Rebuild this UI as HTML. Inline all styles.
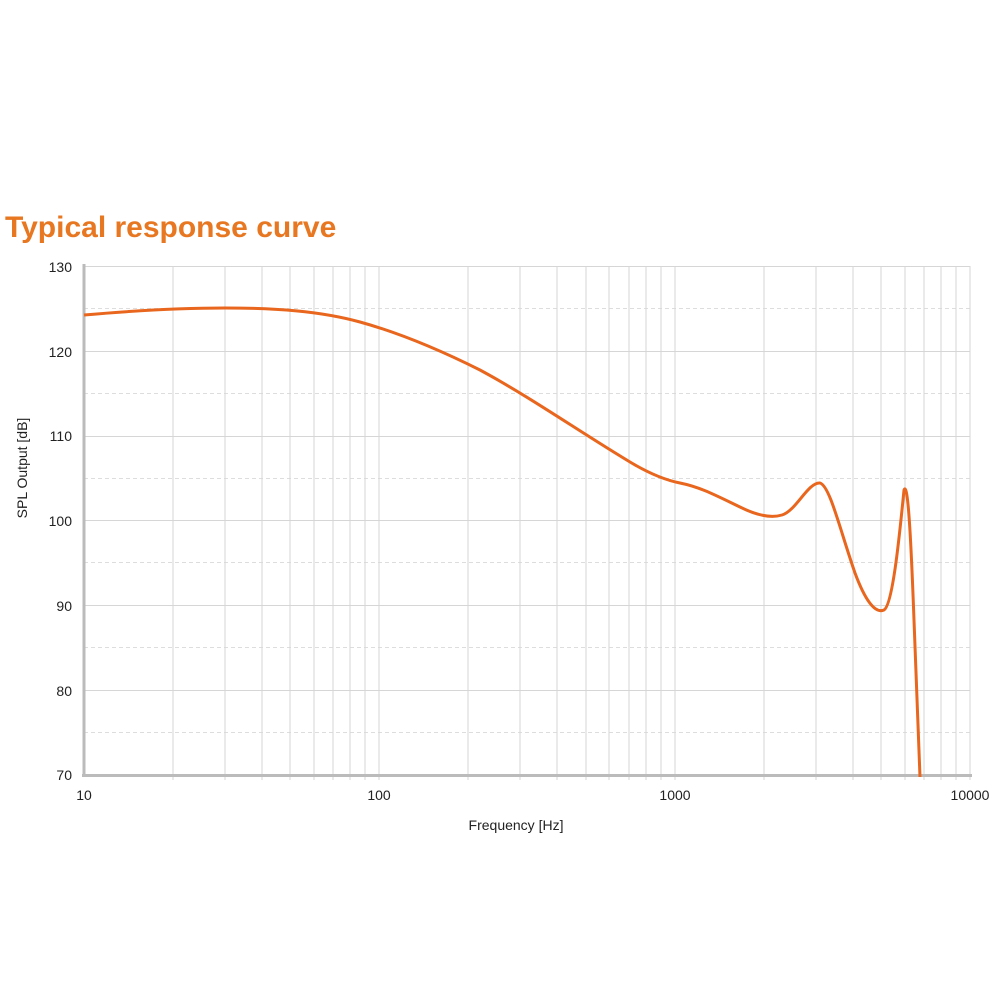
<!DOCTYPE html>
<html><head><style>
body{margin:0;background:#fff;}
svg{display:block;font-family:"Liberation Sans",Arial,sans-serif;}
</style></head><body>
<svg width="1000" height="1000" viewBox="0 0 1000 1000">
<text x="5" y="237" font-size="30" font-weight="bold" fill="#e87722">Typical response curve</text>
<g stroke="#ddd" stroke-width="1" stroke-dasharray="4,3">
<line x1="84" y1="308.5" x2="970" y2="308.5"/><line x1="84" y1="393.5" x2="970" y2="393.5"/>
<line x1="84" y1="478.5" x2="970" y2="478.5"/><line x1="84" y1="562.5" x2="970" y2="562.5"/>
<line x1="84" y1="647.5" x2="970" y2="647.5"/><line x1="84" y1="732.5" x2="970" y2="732.5"/>
</g>
<g stroke="#d6d6d6" stroke-width="1">
<line x1="84" y1="266.5" x2="970" y2="266.5"/><line x1="84" y1="351.5" x2="970" y2="351.5"/>
<line x1="84" y1="436.5" x2="970" y2="436.5"/><line x1="84" y1="520.5" x2="970" y2="520.5"/>
<line x1="84" y1="605.5" x2="970" y2="605.5"/><line x1="84" y1="690.5" x2="970" y2="690.5"/>
<line x1="173" y1="266" x2="173" y2="780"/><line x1="225" y1="266" x2="225" y2="780"/><line x1="262" y1="266" x2="262" y2="780"/><line x1="290" y1="266" x2="290" y2="780"/><line x1="314" y1="266" x2="314" y2="780"/><line x1="333" y1="266" x2="333" y2="780"/><line x1="350" y1="266" x2="350" y2="780"/><line x1="365" y1="266" x2="365" y2="780"/><line x1="379" y1="266" x2="379" y2="780"/>
<line x1="468" y1="266" x2="468" y2="780"/><line x1="520" y1="266" x2="520" y2="780"/><line x1="557" y1="266" x2="557" y2="780"/><line x1="586" y1="266" x2="586" y2="780"/><line x1="609" y1="266" x2="609" y2="780"/><line x1="629" y1="266" x2="629" y2="780"/><line x1="646" y1="266" x2="646" y2="780"/><line x1="661" y1="266" x2="661" y2="780"/><line x1="675" y1="266" x2="675" y2="780"/>
<line x1="764" y1="266" x2="764" y2="780"/><line x1="816" y1="266" x2="816" y2="780"/><line x1="853" y1="266" x2="853" y2="780"/><line x1="881" y1="266" x2="881" y2="780"/><line x1="905" y1="266" x2="905" y2="780"/><line x1="924" y1="266" x2="924" y2="780"/><line x1="941" y1="266" x2="941" y2="780"/><line x1="956" y1="266" x2="956" y2="780"/><line x1="970" y1="266" x2="970" y2="780"/>
</g>
<line x1="84" y1="264" x2="84" y2="777" stroke="#bbb" stroke-width="3"/>
<line x1="82" y1="775.5" x2="972" y2="775.5" stroke="#bbb" stroke-width="3"/>
<g font-size="14" fill="#222" text-anchor="end">
<text x="72" y="272">130</text><text x="72" y="357">120</text><text x="72" y="441">110</text>
<text x="72" y="526">100</text><text x="72" y="611">90</text><text x="72" y="696">80</text><text x="72" y="780">70</text>
</g>
<g font-size="14" fill="#222" text-anchor="middle">
<text x="84" y="800">10</text><text x="379" y="800">100</text><text x="675" y="800">1000</text><text x="970" y="800">10000</text>
</g>
<text x="516" y="830" font-size="14" text-anchor="middle" fill="#222">Frequency [Hz]</text>
<text transform="translate(27,468) rotate(-90)" font-size="14" text-anchor="middle" fill="#222">SPL Output [dB]</text>
<path fill="none" stroke="#e8661e" stroke-width="3" stroke-linejoin="round"
d="M84,315 C130,311 175,308 225,308 C275,308 320,311 360,322 C400,333 440,350 480,370 C530,397 580,432 630,462 C650,474 665,480 680,483 C700,487 715,495 740,507 C758,516 772,518 782,515 C796,511 808,482 820,483 C830,486 840,530 855,573 C865,600 875,614 884,610 C893,605 900,530 904,490 C908,480 911,540 914,620 C916,680 918,730 920,777"/>
</svg>
</body></html>
